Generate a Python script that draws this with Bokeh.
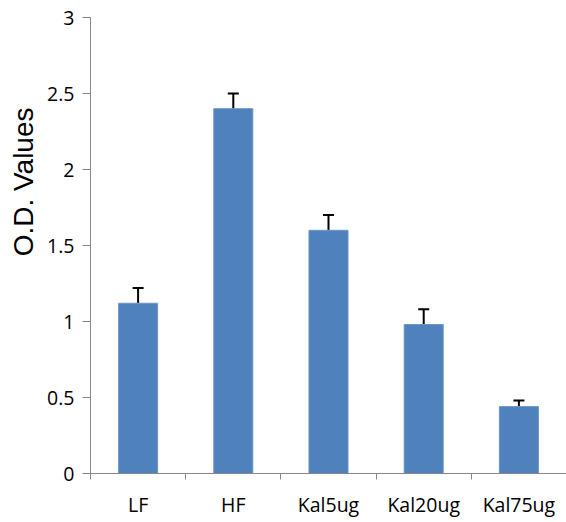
from bokeh.plotting import figure
from bokeh.models import ColumnDataSource, Whisker, TeeHead, FixedTicker, Range1d, Title
from bokeh.embed import file_html
from bokeh.resources import INLINE

categories = ["LF", "HF", "Kal5ug", "Kal20ug", "Kal75ug"]
values = [1.12, 2.40, 1.60, 0.98, 0.44]
errors = [0.10, 0.10, 0.10, 0.10, 0.04]
y_ticks = [0, 0.5, 1, 1.5, 2, 2.5, 3]
y_tick_labels = ["0", "0.5", "1", "1.5", "2", "2.5", "3"]
y_label = "O.D. Values"

xs = [i + 0.5 for i in range(len(categories))]
src = ColumnDataSource(dict(x=xs, top=values,
                            upper=[v + e for v, e in zip(values, errors)]))

p = figure(width=566, height=520, output_backend="svg", toolbar_location=None,
           x_range=Range1d(0, len(categories)), y_range=Range1d(0, 3),
           min_border_left=90, min_border_right=0, min_border_top=17,
           min_border_bottom=46)
p.outline_line_color = None
p.xgrid.grid_line_color = None
p.ygrid.grid_line_color = None
p.background_fill_color = "white"
p.border_fill_color = "white"

p.vbar(x="x", top="top", width=0.41, bottom=0, source=src,
       fill_color="#4F81BD", line_color="#6C96CA", line_width=1)

w = Whisker(base="x", lower="top", upper="upper", source=src,
            line_color="black", line_width=2,
            upper_head=TeeHead(size=11, line_color="black", line_width=2),
            lower_head=None)
p.add_layout(w)

axis_color = "#868686"
# x axis
xa = p.xaxis[0]
xa.ticker = FixedTicker(ticks=xs, minor_ticks=list(range(len(categories) + 1)))
xa.major_label_overrides = {x: c for x, c in zip(xs, categories)}
xa.major_tick_line_color = None
xa.major_tick_out = 0
xa.major_tick_in = 0
xa.minor_tick_line_color = axis_color
xa.minor_tick_out = 6
xa.minor_tick_in = 0
xa.axis_line_color = axis_color
xa.major_label_standoff = 11
xa.major_label_text_font = "Open Sans"
xa.major_label_text_font_size = "19.5px"
xa.major_label_text_color = "black"

# y axis
ya = p.yaxis[0]
ya.ticker = FixedTicker(ticks=y_ticks, minor_ticks=[])
ya.major_label_overrides = {t: l for t, l in zip(y_ticks, y_tick_labels)}
ya.major_tick_line_color = axis_color
ya.major_tick_out = 8
ya.major_tick_in = 0
ya.axis_line_color = axis_color
ya.major_label_standoff = 8
ya.major_label_text_font = "Open Sans"
ya.major_label_text_font_size = "19.5px"
ya.major_label_text_color = "black"

t = Title(text=y_label, align="right", offset=90, standoff=11,
          text_font="Liberation Sans", text_font_style="normal",
          text_font_size="28px", text_color="black")
p.add_layout(t, "left")

open("out.html", "w").write(file_html(p, INLINE))
